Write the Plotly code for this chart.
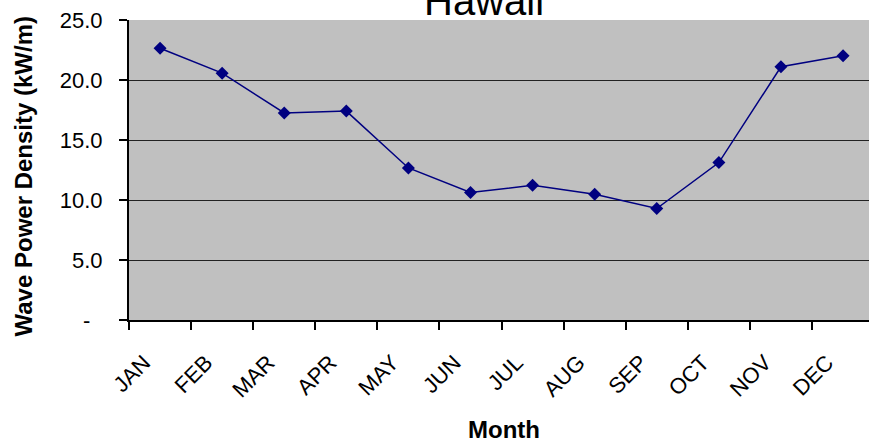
import plotly.graph_objects as go

months = ["JAN", "FEB", "MAR", "APR", "MAY", "JUN", "JUL", "AUG", "SEP", "OCT", "NOV", "DEC"]
wave_power = [22.65, 20.57, 17.25, 17.41, 12.67, 10.62, 11.23, 10.48, 9.29, 13.12, 21.1, 22.02]
y_tickvals = [0, 5, 10, 15, 20, 25]
y_ticktext = ["-\u00a0\u00a0", "5.0", "10.0", "15.0", "20.0", "25.0"]

FONT = "Arial, 'Liberation Sans', sans-serif"

fig = go.Figure()
fig.add_trace(go.Scatter(
    x=months, y=wave_power, mode="lines+markers",
    line=dict(color="#000080", width=1.5),
    marker=dict(symbol="diamond", size=10, color="#000080"),
    showlegend=False, cliponaxis=False,
))

fig.update_layout(
    width=869, height=442,
    margin=dict(l=129, r=0, t=20, b=122),
    paper_bgcolor="white", plot_bgcolor="#C0C0C0",
    font=dict(family=FONT, color="black"),
    xaxis=dict(
        type="category", categoryorder="array", categoryarray=months,
        range=[-0.5, 11.418], tickson="boundaries",
        ticks="outside", ticklen=8, tickwidth=1.5, tickcolor="black",
        showline=True, linecolor="black", linewidth=2,
        showgrid=False, tickangle=-45, tickfont=dict(size=22, family=FONT),
        ticklabelstandoff=19, ticklabelshift=-16,
    ),
    yaxis=dict(
        range=[0, 25], tickvals=y_tickvals, ticktext=y_ticktext,
        ticks="outside", ticklen=8, tickwidth=1.5, tickcolor="black",
        showline=True, linecolor="black", linewidth=2,
        showgrid=True, gridcolor="#222222", gridwidth=1.4, zeroline=False,
        tickfont=dict(size=22, family=FONT), ticklabelstandoff=12,
    ),
    annotations=[
        dict(text="Hawaii", xref="paper", yref="paper", x=0.480, y=1,
             xanchor="center", yanchor="bottom", yshift=-5, showarrow=False,
             font=dict(size=40, family=FONT, color="black")),
        dict(text="<b>Month</b>", xref="paper", yref="paper", x=0.507, y=0,
             xanchor="center", yanchor="top", yshift=-94, showarrow=False,
             font=dict(size=24, family=FONT, color="black")),
        dict(text="<b>Wave Power Density (kW/m)</b>", xref="paper", yref="paper",
             x=(22.5 - 129) / 740, y=0.48, xanchor="center", yanchor="middle",
             textangle=-90, showarrow=False,
             font=dict(size=24, family=FONT, color="black")),
    ],
)

fig.write_html("out.html")
